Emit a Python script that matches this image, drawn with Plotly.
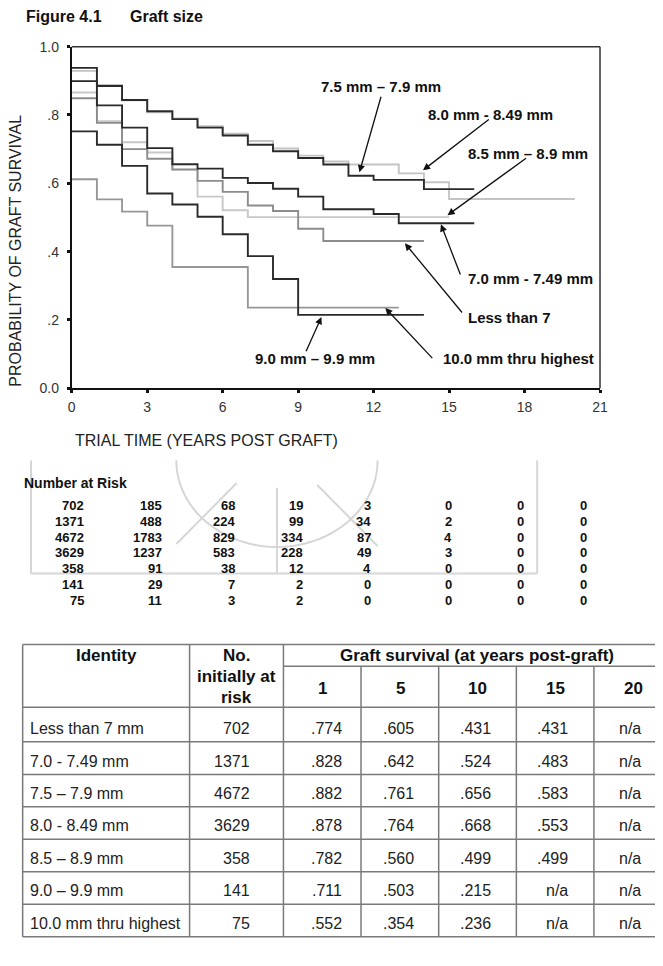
import numpy as np
import plotly.graph_objects as go

W, H = 663, 966
FONT = "Liberation Sans, Arial, sans-serif"


def px(x):
    return x / W


def py(y):
    return 1 - y / H


# ---------------- data ----------------
series_names = ["7.5 mm – 7.9 mm", "8.0 mm - 8.49 mm", "7.0 mm - 7.49 mm",
                "8.5 mm – 8.9 mm", "Less than 7", "9.0 mm – 9.9 mm",
                "10.0 mm thru highest"]
# survival value for each yearly interval starting at t = 0, 1, 2, ...
surv_75 = [0.938, 0.885, 0.844, 0.811, 0.788, 0.763, 0.740, 0.713, 0.694, 0.674,
           0.655, 0.622, 0.610, 0.610, 0.583, 0.583]
surv_80 = [0.929, 0.888, 0.843, 0.808, 0.790, 0.767, 0.745, 0.724, 0.702, 0.681,
           0.664, 0.655, 0.655, 0.629, 0.603, 0.554, 0.554, 0.554, 0.554, 0.554]
surv_70 = [0.899, 0.828, 0.763, 0.703, 0.656, 0.643, 0.616, 0.601, 0.584, 0.561,
           0.524, 0.524, 0.510, 0.483, 0.483, 0.483]
surv_85 = [0.866, 0.782, 0.720, 0.690, 0.641, 0.561, 0.521, 0.501, 0.501, 0.501,
           0.501, 0.501, 0.501, 0.501, 0.501]
surv_lt7 = [0.849, 0.777, 0.700, 0.672, 0.640, 0.607, 0.575, 0.535, 0.519, 0.467,
            0.431, 0.431, 0.431, 0.431]
surv_90 = [0.752, 0.713, 0.651, 0.570, 0.538, 0.502, 0.451, 0.387, 0.320, 0.215,
           0.215, 0.215, 0.215, 0.215]
surv_10 = [0.612, 0.553, 0.517, 0.476, 0.355, 0.355, 0.355, 0.236, 0.236, 0.236,
           0.236, 0.236, 0.236]
end_years = [16, 20, 16, 15, 14, 14, 13]

x_ticks = [0, 3, 6, 9, 12, 15, 18, 21]
y_ticks = [0, 0.2, 0.4, 0.6, 0.8, 1.0]
y_ticktext = ["0.0", ".2", ".4", ".6", ".8", "1.0"]

risk_rows = [
    [702, 185, 68, 19, 3, 0, 0, 0],
    [1371, 488, 224, 99, 34, 2, 0, 0],
    [4672, 1783, 829, 334, 87, 4, 0, 0],
    [3629, 1237, 583, 228, 49, 3, 0, 0],
    [358, 91, 38, 12, 4, 0, 0, 0],
    [141, 29, 7, 2, 0, 0, 0, 0],
    [75, 11, 3, 2, 0, 0, 0, 0],
]

identity = ["Less than 7 mm", "7.0 - 7.49 mm", "7.5 – 7.9 mm", "8.0 - 8.49 mm",
            "8.5 – 8.9 mm", "9.0 – 9.9 mm", "10.0 mm thru highest"]
n_initial = [702, 1371, 4672, 3629, 358, 141, 75]
surv_yr1 = [".774", ".828", ".882", ".878", ".782", ".711", ".552"]
surv_yr5 = [".605", ".642", ".761", ".764", ".560", ".503", ".354"]
surv_yr10 = [".431", ".524", ".656", ".668", ".499", ".215", ".236"]
surv_yr15 = [".431", ".483", ".583", ".553", ".499", "n/a", "n/a"]
surv_yr20 = ["n/a", "n/a", "n/a", "n/a", "n/a", "n/a", "n/a"]
year_headers = ["1", "5", "10", "15", "20"]

# ---------------- figure ----------------
fig = go.Figure()

all_series = [surv_75, surv_80, surv_70, surv_85, surv_lt7, surv_90, surv_10]
colors = ["#2a2a2a", "#c4c4c4", "#2a2a2a", "#c8c8c8", "#8c8c8c", "#2a2a2a", "#979797"]
draw_order = [3, 1, 4, 6, 0, 2, 5]
for i in draw_order:
    vals = all_series[i]
    xs = list(range(len(vals))) + [end_years[i]]
    ys = list(vals) + [vals[-1]]
    fig.add_trace(go.Scatter(x=xs, y=ys, mode="lines", line_shape="hv",
                             line=dict(color=colors[i], width=1.9),
                             name=series_names[i], hoverinfo="skip"))

x0p, x1p = 69, 607
y0p, y1p = 386.7, 39.3
fig.update_layout(
    width=W, height=H, margin=dict(l=0, r=0, t=0, b=0),
    paper_bgcolor="white", plot_bgcolor="white", showlegend=False,
    font=dict(family=FONT, color="#222"),
    xaxis=dict(domain=[px(x0p), px(x1p)], range=[0, 21], tickvals=x_ticks,
               showgrid=False, zeroline=False, showline=True, linecolor="#111",
               linewidth=2, ticks="outside", ticklen=3, tickwidth=3,
               tickcolor="#111", tickfont=dict(size=14, color="#333"),
               ticklabelstandoff=2),
    yaxis=dict(domain=[py(y0p), py(y1p)], range=[0, 1], tickvals=y_ticks,
               ticktext=y_ticktext, showgrid=False, zeroline=False,
               showline=True, linecolor="#111", linewidth=2, ticks="outside",
               ticklen=3, tickwidth=3, tickcolor="#111",
               tickfont=dict(size=14, color="#333"), ticklabelstandoff=5),
)

shapes = []
# top and right frame
shapes.append(dict(type="line", xref="paper", yref="paper", x0=px(x0p), x1=px(x1p),
                   y0=py(y1p), y1=py(y1p), line=dict(color="#333", width=1.5)))
shapes.append(dict(type="line", xref="paper", yref="paper", x0=px(x1p), x1=px(x1p),
                   y0=py(y1p), y1=py(y0p), line=dict(color="#333", width=1.5)))

# watermark (faint decoration behind the risk table)
wm = dict(color="#d6d6d6", width=2)
for (a, b, c, d) in [(27.5, 460, 27.5, 575), (27.5, 575, 543, 575), (543, 460, 543, 575),
                     (278, 488, 278, 575), (237, 483, 175.5, 545), (319, 485, 380.5, 547)]:
    shapes.append(dict(type="line", xref="paper", yref="paper", x0=px(a), y0=py(b),
                       x1=px(c), y1=py(d), line=wm, layer="below"))
th = np.linspace(0, np.pi, 60)
arc_x = 278 + 102.5 * np.cos(th)
arc_y = 460 + 88 * np.sin(th)
path = "M " + " L ".join(f"{px(a):.5f},{py(b):.5f}" for a, b in zip(arc_x, arc_y))
shapes.append(dict(type="path", xref="paper", yref="paper", path=path, line=wm,
                   layer="below"))

# bottom table grid
tc = dict(color="#7a7a7a", width=1.5)
t_left, t_right = 19, 663
t_top, t_sub, t_head = 647.3, 669.3, 711
row_lines = [746, 779.3, 812.3, 845.3, 878.3, 911.3, 944.3]
col_lines = [19, 189, 284.6, 363.6, 442.7, 521.8, 600.8]
for yy in [t_top, t_head] + row_lines:
    shapes.append(dict(type="line", xref="paper", yref="paper", x0=px(t_left),
                       x1=px(t_right), y0=py(yy), y1=py(yy), line=tc))
shapes.append(dict(type="line", xref="paper", yref="paper", x0=px(284.6),
                   x1=px(t_right), y0=py(t_sub), y1=py(t_sub), line=tc))
for j, xx in enumerate(col_lines):
    ytop = t_top if j < 3 else t_sub
    shapes.append(dict(type="line", xref="paper", yref="paper", x0=px(xx), x1=px(xx),
                       y0=py(ytop), y1=py(row_lines[-1]), line=tc))

ann = []


def text(x, y, s, size, bold=False, xanchor="left", color="#111", angle=0):
    ann.append(dict(x=px(x), y=py(y), xref="paper", yref="paper", text=s,
                    showarrow=False, xanchor=xanchor, yanchor="middle",
                    textangle=angle,
                    font=dict(family=FONT, size=size, color=color,
                              weight="bold" if bold else "normal")))


# title
text(20, 9, "Figure 4.1", 16, True)
text(126, 9, "Graft size", 16, True)
# axis titles
text(12, 247, "PROBABILITY OF GRAFT SURVIVAL", 16, False, "center", "#222", -90)
text(70, 440, "TRIAL TIME (YEARS POST GRAFT)", 16, False, "left", "#222")

# curve labels and arrows
label_pos = [(321, 80), (430, 108), (471, 275), (471, 148), (471, 315), (254, 356), (445, 356)]
arrow_head = [(362, 167), (426.7, 165), (445, 220), (451.7, 210.7), (408.3, 239.3),
              (323.3, 314.3), (388.3, 305)]
arrow_tail = [(384, 90), (494, 113), (465, 271.7), (531.7, 152.7), (466.7, 310),
              (307.3, 350), (436.7, 356.7)]
for i, name in enumerate(series_names):
    text(label_pos[i][0], label_pos[i][1], name, 15, True)
    hx, hy = arrow_head[i]
    tx, ty = arrow_tail[i]
    ann.append(dict(x=px(hx), y=py(hy), xref="paper", yref="paper", text="",
                    showarrow=True, ax=tx - hx, ay=ty - hy, arrowhead=2,
                    arrowsize=1.1, arrowwidth=1.3, arrowcolor="#111", standoff=0))

# number at risk
text(18, 482.5, "Number at Risk", 14, True)
risk_col_right = [83.7, 162.8, 237.6, 306.6, 376.3, 458, 532, 596.2]
risk_row_y = [506, 522, 538, 554, 570, 586, 602]
for r, row in enumerate(risk_rows):
    for c, v in enumerate(row):
        text(risk_col_right[c], risk_row_y[r], str(v), 13, True, "right")

# bottom table text
text(104.4, 658, "Identity", 17, True, "center")
text(237, 658, "No.", 17, True, "center")
text(237, 680, "initially at", 17, True, "center")
text(237, 701, "risk", 17, True, "center")
text(482, 658, "Graft survival (at years post-graft)", 17, True, "center")
sub_centers = [324, 403.5, 482, 561.5, 641]
for c, s in enumerate(year_headers):
    text(sub_centers[c], 691.5, s, 17, True, "center")

body_y = [732.3, 765.7, 798.7, 831.7, 864.7, 897.7, 930.7]
val_right = [346, 419.5, 498, 576, 651]
cols = [surv_yr1, surv_yr5, surv_yr10, surv_yr15, surv_yr20]
for r in range(len(identity)):
    text(24, body_y[r], identity[r], 16, False, "left", "#222")
    text(252.5, body_y[r], str(n_initial[r]), 16, False, "right", "#222")
    for c, col in enumerate(cols):
        text(val_right[c], body_y[r], col[r], 16, False, "right", "#222")

fig.update_layout(shapes=shapes, annotations=ann)
fig.write_html("out.html")
